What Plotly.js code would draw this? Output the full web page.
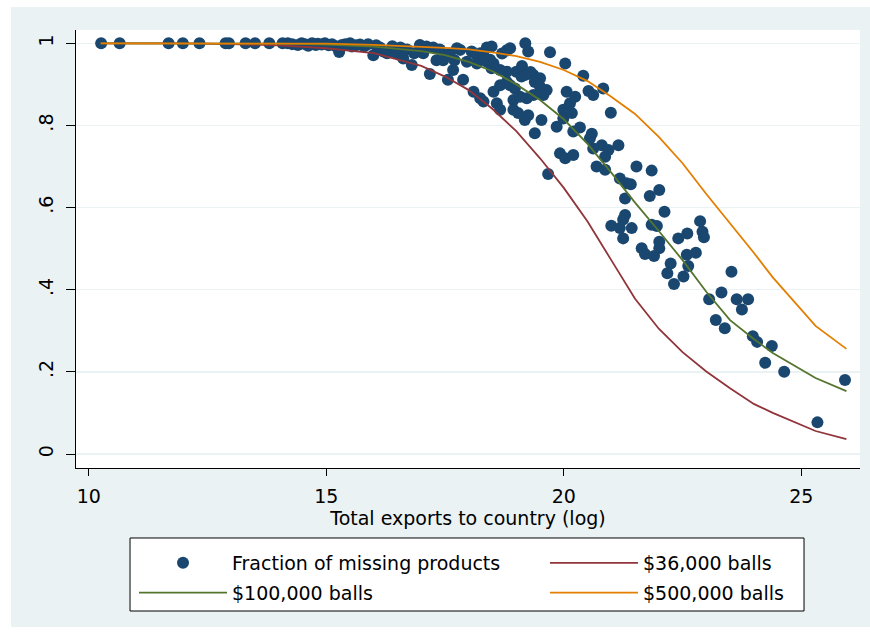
<!DOCTYPE html>
<html><head><meta charset="utf-8">
<script src="https://cdn.plot.ly/plotly-3.0.1.min.js"></script>
<style>
html,body{margin:0;padding:0;background:#ffffff;width:870px;height:636px;overflow:hidden}
#chart{position:absolute;left:11px;top:7px;width:859px;height:620px}
</style></head><body><div id="chart"></div>
<script>
// Scatter: fraction of missing products vs log total exports
const exportsLog = [10.26,10.65,11.68,11.98,12.33,12.88,12.95,13.30,13.50,13.80,14.08,14.19,14.28,14.40,14.48,14.55,14.62,14.70,14.78,14.82,14.90,14.97,15.05,15.12,15.20,15.27,15.33,15.40,15.50,15.54,15.62,15.71,15.80,15.88,15.99,16.05,16.13,16.20,16.28,16.39,16.48,16.56,16.62,16.70,16.80,16.85,16.97,17.04,17.11,17.18,17.25,17.32,17.39,17.46,17.56,17.60,17.67,17.70,17.75,17.82,17.88,17.96,18.06,18.10,18.17,18.17,18.24,18.24,18.31,18.31,18.38,18.38,18.45,18.48,18.48,18.52,18.52,18.59,18.66,18.66,18.66,18.70,18.80,18.80,18.80,18.87,18.87,18.94,18.94,18.97,19.00,19.04,19.08,19.11,19.12,19.18,19.18,19.19,19.22,19.25,19.25,19.30,19.36,19.36,19.39,19.39,19.50,19.50,19.53,19.57,19.64,19.67,19.71,19.85,19.92,19.99,19.99,20.03,20.03,20.06,20.13,20.17,20.20,20.20,20.24,20.34,20.41,20.52,20.55,20.59,20.62,20.62,20.69,20.80,20.83,20.87,20.87,20.94,20.99,21.00,21.18,21.15,21.18,21.32,21.41,21.53,21.85,22.01,21.81,21.29,22.12,21.29,21.25,21.43,21.25,21.85,21.96,22.01,22.01,21.64,21.71,21.90,22.41,22.60,22.87,22.92,22.95,22.25,22.18,22.32,22.52,22.59,22.78,22.62,23.53,23.06,23.32,23.64,23.75,23.88,23.20,23.39,23.98,24.07,24.38,24.24,24.64,25.34,25.92];
const fractionMissing = [1.0,1.0,1.0,1.0,1.0,1.0,1.0,1.0,1.0,1.0,1.0,1.0,0.998,0.996,1.0,0.998,0.994,1.0,0.996,0.999,0.997,1.0,0.995,0.998,0.993,0.979,0.996,0.998,1.0,0.992,0.995,0.997,0.993,0.998,0.971,0.995,0.99,0.98,0.976,0.993,0.976,0.99,0.963,0.985,0.947,0.976,0.996,0.976,0.992,0.925,0.99,0.959,0.985,0.959,0.911,0.975,0.935,0.959,0.988,0.984,0.911,0.955,0.98,0.882,0.951,0.971,0.976,0.866,0.858,0.971,0.955,0.99,0.96,0.939,0.992,0.951,0.882,0.854,0.935,0.838,0.898,0.975,0.931,0.983,0.906,0.988,0.898,0.862,0.838,0.89,0.931,0.83,0.87,0.919,0.945,0.813,0.923,1.0,0.866,0.98,0.825,0.93,0.923,0.874,0.906,0.781,0.894,0.915,0.813,0.874,0.886,0.682,0.978,0.797,0.732,0.838,0.817,0.951,0.72,0.882,0.854,0.83,0.785,0.728,0.87,0.795,0.921,0.884,0.769,0.78,0.874,0.744,0.70,0.752,0.89,0.724,0.692,0.74,0.831,0.556,0.55,0.752,0.671,0.659,0.657,0.70,0.69,0.643,0.628,0.622,0.59,0.582,0.571,0.55,0.525,0.558,0.555,0.517,0.501,0.501,0.487,0.482,0.525,0.537,0.567,0.541,0.528,0.464,0.44,0.414,0.432,0.485,0.49,0.458,0.444,0.377,0.393,0.377,0.352,0.377,0.326,0.306,0.287,0.273,0.263,0.222,0.20,0.077,0.18];

// Predicted curves for three ball sizes
const curveX = [10.25,11,12,13,14,15,16,17,17.5,18,18.5,19,19.5,20,20.5,21,21.5,22,22.5,23,23.5,24,24.4,25.3,25.95];
const balls36k = [1.0,1.0,1.0,0.998,0.995,0.988,0.976,0.945,0.919,0.886,0.84,0.786,0.72,0.648,0.566,0.472,0.378,0.305,0.248,0.201,0.16,0.122,0.1,0.056,0.036];
const balls100k = [1.0,1.0,1.0,1.0,0.999,0.997,0.992,0.981,0.971,0.955,0.932,0.9,0.862,0.815,0.755,0.685,0.612,0.543,0.472,0.395,0.326,0.28,0.246,0.185,0.153];
const balls500k = [1.0,1.0,1.0,1.0,1.0,0.999,0.996,0.992,0.989,0.985,0.978,0.969,0.955,0.935,0.908,0.87,0.828,0.772,0.708,0.633,0.562,0.49,0.43,0.312,0.256];

const seriesNames = ['Fraction of missing products','$36,000 balls','$100,000 balls','$500,000 balls'];
const xTickVals = [10,15,20,25];
const yTickVals = [0,0.2,0.4,0.6,0.8,1];
const yTickText = ['0','.2','.4','.6','.8','1'];
const xTitle = 'Total exports to country (log)';

const FONT = 'DejaVu Sans, Liberation Sans, Arial, sans-serif';
const BG = '#eaf2f3';

const traces = [
  {x: exportsLog, y: fractionMissing, type:'scatter', mode:'markers', name: seriesNames[0],
   legend:'legend', legendgroup:'g1', marker:{color:'#1a476f', size:12, line:{width:0}}},
  {x: curveX, y: balls36k, type:'scatter', mode:'lines', name: seriesNames[1],
   legend:'legend2', legendgroup:'g2', line:{color:'#90353b', width:1.8}},
  {x: curveX, y: balls100k, type:'scatter', mode:'lines', name: seriesNames[2],
   legend:'legend', legendgroup:'g3', line:{color:'#55752f', width:1.8}},
  {x: curveX, y: balls500k, type:'scatter', mode:'lines', name: seriesNames[3],
   legend:'legend2', legendgroup:'g4', line:{color:'#e37e00', width:1.8}}
];

const legendBase = {
  orientation:'v', xanchor:'left', yanchor:'top', y:-0.1735,
  bgcolor:'rgba(0,0,0,0)', borderwidth:0, itemwidth:88, tracegroupgap:2,
  font:{family:FONT, size:19, color:'#000000'}, traceorder:'grouped'
};

const layout = {
  width: 859, height: 620,
  paper_bgcolor: BG, plot_bgcolor: '#ffffff',
  margin: {l:65, r:10, t:23, b:159, pad:0},
  font: {family: FONT, size: 19, color:'#000000'},
  showlegend: true,
  xaxis: {
    range: [9.7305, 26.236], tickvals: xTickVals, ticktext: xTickVals.map(String),
    ticks:'outside', ticklen:7, tickwidth:1, tickcolor:'#000000',
    showline:true, linecolor:'#000000', linewidth:1, mirror:false,
    showgrid:false, zeroline:false, ticklabelstandoff: 4,
    tickfont:{family:FONT, size:19, color:'#000000'},
    title:{text: xTitle, font:{family:FONT, size:19, color:'#000000'}, standoff: 0},
    automargin:false
  },
  yaxis: {
    range: [-0.0341, 1.0324], tickvals: yTickVals, ticktext: yTickText, tickangle: -90,
    ticks:'outside', ticklen:9, tickwidth:1, tickcolor:'#000000',
    showline:true, linecolor:'#000000', linewidth:1,
    showgrid:true, gridcolor: BG, gridwidth:1.5, zeroline:false, ticklabelstandoff: 5,
    tickfont:{family:FONT, size:19, color:'#000000'},
    automargin:false
  },
  legend: Object.assign({}, legendBase, {x:0.07398}),
  legend2: Object.assign({}, legendBase, {x:0.5982}),
  shapes: [{
    type:'rect', xref:'paper', yref:'paper', x0:0.0689, x1:0.9286, y0:-0.3265, y1:-0.1598,
    line:{color:'#000000', width:1}, fillcolor:'#ffffff', layer:'below'
  }]
};

Plotly.newPlot('chart', traces, layout, {displayModeBar:false, staticPlot:true});
</script></body></html>
